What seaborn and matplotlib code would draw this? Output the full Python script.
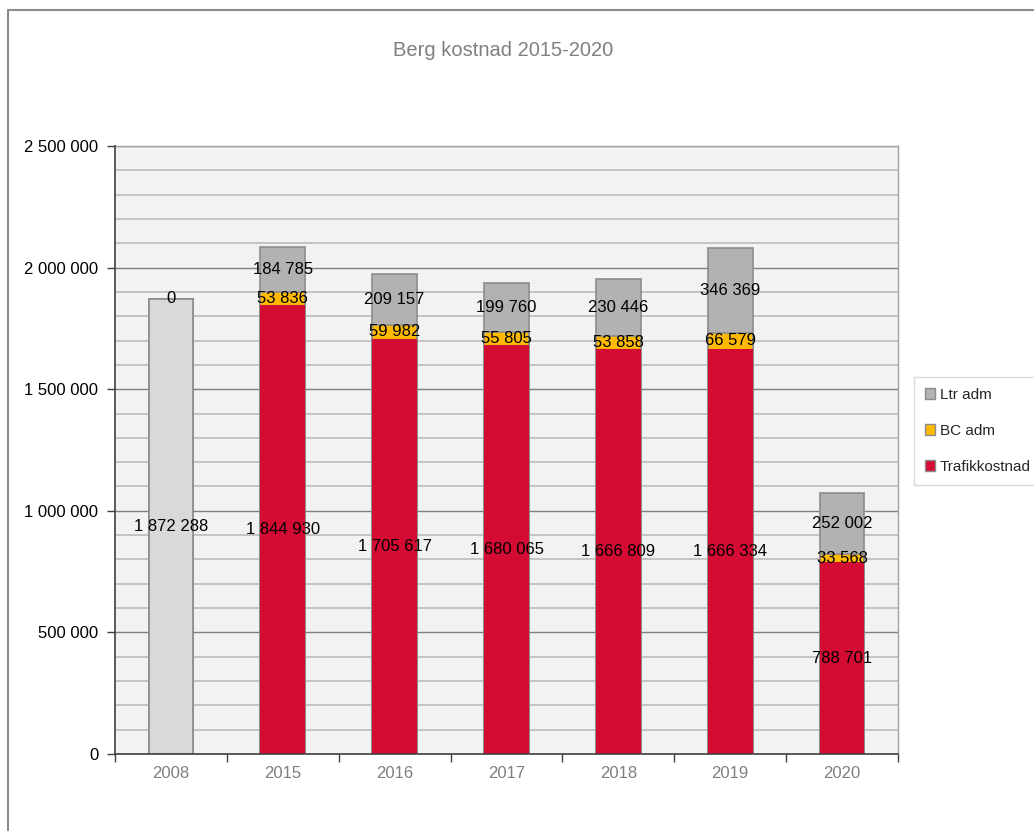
import matplotlib
matplotlib.use("Agg")
import matplotlib.pyplot as plt
import seaborn as sns
import pandas as pd
import numpy as np
from matplotlib.ticker import MultipleLocator, FuncFormatter
from matplotlib.patches import Patch
from matplotlib.lines import Line2D

years = ["2008", "2015", "2016", "2017", "2018", "2019", "2020"]
trafikkostnad = [1872288, 1844930, 1705617, 1680065, 1666809, 1666334, 788701]
bc_adm = [np.nan, 53836, 59982, 55805, 53858, 66579, 33568]
ltr_adm = [0, 184785, 209157, 199760, 230446, 346369, 252002]
title = "Berg kostnad 2015-2020"

RED = "#D40C34"
GOLD = "#FFBA00"
GRAY = "#B2B2B2"
LIGHT = "#D9D9D9"
EDGE = "#8C8C8C"

sns.set_theme(style="white")
plt.rcParams["font.family"] = ["Liberation Sans", "DejaVu Sans"]

df = pd.DataFrame({"year": years, "traf": trafikkostnad,
                   "bc": bc_adm, "ltr": ltr_adm})
df["bc0"] = df["bc"].fillna(0)
df["l1"] = df["traf"]
df["l2"] = df["traf"] + df["bc0"]
df["l3"] = df["l2"] + df["ltr"]

fig = plt.figure(figsize=(10.34, 8.31), dpi=100)
ax = fig.add_axes([115/1034, 1-754/831, (898-115)/1034, (754-146)/831])
ax.set_facecolor("#F2F2F2")

W = 0.40
sns.barplot(data=df, x="year", y="l3", order=years, color=GRAY, saturation=1,
            width=W, edgecolor=EDGE, linewidth=1.2, ax=ax, zorder=3)
sns.barplot(data=df, x="year", y="l2", order=years, color=GOLD, saturation=1,
            width=W, edgecolor=EDGE, linewidth=1.2, ax=ax, zorder=4)
pal = {y: (LIGHT if y == "2008" else RED) for y in years}
sns.barplot(data=df, x="year", y="l1", order=years, hue="year", saturation=1,
            palette=pal, legend=False, width=W, linewidth=0, ax=ax, zorder=5)
# gray outline on 2008 bar
for p in ax.patches[-7:]:
    if abs(p.get_x() + p.get_width()/2) < 0.01:
        p.set_edgecolor(EDGE)
        p.set_linewidth(1.2)

def fmt(v):
    return f"{v:,.0f}".replace(",", " ")

for i in range(len(years)):
    t = df.loc[i, "traf"]
    ax.text(i, t/2, fmt(t), ha="center", va="center", fontsize=12,
            color="black", zorder=10)
    b = df.loc[i, "bc"]
    if not np.isnan(b):
        ax.text(i, t + b/2, fmt(b), ha="center", va="center", fontsize=12,
                color="black", zorder=10)
    l = df.loc[i, "ltr"]
    ax.text(i, df.loc[i, "l2"] + l/2, fmt(l), ha="center", va="center",
            fontsize=12, color="black", zorder=10)

ax.set_ylim(0, 2500000)
ax.set_xlim(-0.5, len(years) - 0.5)
ax.yaxis.set_major_locator(MultipleLocator(500000))
ax.yaxis.set_minor_locator(MultipleLocator(100000))
ax.yaxis.set_major_formatter(FuncFormatter(lambda v, p: fmt(v)))
ax.grid(which="minor", axis="y", color="#C0C0C0", linewidth=1.3, zorder=0)
ax.grid(which="major", axis="y", color="#7F7F7F", linewidth=1.0, zorder=1)
ax.set_axisbelow(True)

ax.tick_params(axis="y", which="major", direction="out", length=6,
               width=1, color="#404040", labelsize=12, labelcolor="black", left=True, pad=6)
ax.tick_params(axis="y", which="minor", length=0)
ax.set_xticks(range(len(years)))
ax.set_xticklabels(years)
ax.set_xticks(np.arange(-0.5, len(years), 1), minor=True)
ax.tick_params(axis="x", which="major", length=0, labelsize=12,
               labelcolor="#7F7F7F", pad=9)
ax.tick_params(axis="x", which="minor", direction="out", length=6,
               width=1, color="#404040", bottom=True)
ax.set_xlabel("")
ax.set_ylabel("")

for s in ["left", "bottom"]:
    ax.spines[s].set_color("#404040")
    ax.spines[s].set_linewidth(1.2)
    ax.spines[s].set_zorder(6)
for s in ["top", "right"]:
    ax.spines[s].set_color("#A0A0A0")
    ax.spines[s].set_linewidth(1.0)

fig.text(503/1034, 1-50/831, title, ha="center", va="center",
         fontsize=14.5, color="#808080")

handles = [Patch(facecolor=GRAY, edgecolor=EDGE, label="Ltr adm"),
           Patch(facecolor=GOLD, edgecolor=EDGE, label="BC adm"),
           Patch(facecolor=RED, edgecolor=EDGE, label="Trafikkostnad")]
leg = fig.legend(handles=handles, loc="upper left",
                 bbox_to_anchor=(914/1034, 1-377/831), frameon=True,
                 fontsize=11, handlelength=0.7, handleheight=0.7,
                 handletextpad=0.3, labelspacing=1.45, borderpad=0.7,
                 borderaxespad=0, fancybox=False)
leg.get_frame().set_edgecolor("#D0D0D0")
leg.get_frame().set_linewidth(1.0)

# outer chart frame (top and left edges)
fig.add_artist(Line2D([8/1034, 8/1034], [0, 1-10/831], color="#8C8C8C",
                      linewidth=1.5, transform=fig.transFigure))
fig.add_artist(Line2D([8/1034, 1], [1-10/831, 1-10/831], color="#8C8C8C",
                      linewidth=1.5, transform=fig.transFigure))

fig.savefig("out.png", dpi=100, facecolor="white")
